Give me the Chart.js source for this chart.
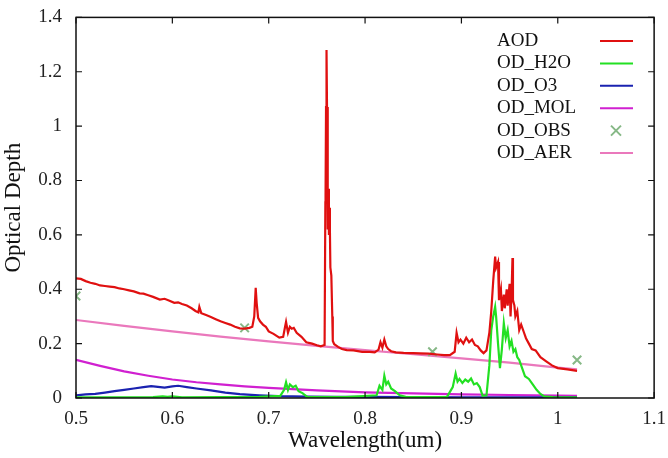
<!DOCTYPE html>
<html>
<head>
<meta charset="utf-8">
<script src="https://cdn.jsdelivr.net/npm/chart.js@4.4.1/dist/chart.umd.min.js"></script>
<style>
  html, body { margin: 0; padding: 0; background: #fff; }
  #wrap { width: 668px; height: 458px; }
</style>
</head>
<body>
<div id="wrap"><canvas id="odChart" width="668" height="458"></canvas></div>
<script>
// tick labels
const xTickLabels = ["0.5", "0.6", "0.7", "0.8", "0.9", "1", "1.1"];
const yTickLabels = ["0", "0.2", "0.4", "0.6", "0.8", "1", "1.2", "1.4"];

// AOD (red), fine grid around absorption bands
const aodWl = [0.500, 0.505, 0.510, 0.515, 0.520, 0.525, 0.530, 0.535, 0.540, 0.545, 0.550, 0.555, 0.560, 0.566, 0.570, 0.575, 0.580, 0.587, 0.592, 0.597, 0.602, 0.606, 0.610, 0.615, 0.620, 0.624, 0.627, 0.628, 0.630, 0.635, 0.640, 0.645, 0.650, 0.655, 0.660, 0.665, 0.670, 0.675, 0.680, 0.683, 0.685, 0.6865, 0.6875, 0.689, 0.691, 0.694, 0.697, 0.700, 0.705, 0.711, 0.715, 0.717, 0.718, 0.720, 0.722, 0.724, 0.726, 0.729, 0.734, 0.739, 0.745, 0.750, 0.754, 0.758, 0.7588, 0.759, 0.7595, 0.760, 0.7605, 0.761, 0.7615, 0.762, 0.7625, 0.763, 0.7635, 0.764, 0.765, 0.766, 0.7665, 0.768, 0.772, 0.776, 0.781, 0.788, 0.797, 0.805, 0.810, 0.814, 0.816, 0.818, 0.820, 0.822, 0.824, 0.827, 0.832, 0.840, 0.850, 0.857, 0.866, 0.875, 0.882, 0.888, 0.893, 0.895, 0.897, 0.899, 0.902, 0.905, 0.908, 0.911, 0.914, 0.917, 0.920, 0.923, 0.926, 0.929, 0.931, 0.933, 0.935, 0.936, 0.938, 0.939, 0.941, 0.942, 0.944, 0.945, 0.947, 0.948, 0.950, 0.951, 0.952, 0.953, 0.9535, 0.955, 0.956, 0.958, 0.960, 0.962, 0.965, 0.967, 0.970, 0.973, 0.977, 0.982, 0.988, 0.994, 1.000, 1.010, 1.020];
const aodVal = [0.440, 0.438, 0.430, 0.424, 0.420, 0.414, 0.412, 0.410, 0.408, 0.403, 0.400, 0.396, 0.392, 0.385, 0.384, 0.378, 0.372, 0.362, 0.365, 0.358, 0.350, 0.352, 0.346, 0.340, 0.330, 0.320, 0.315, 0.335, 0.312, 0.305, 0.298, 0.290, 0.282, 0.276, 0.270, 0.262, 0.256, 0.255, 0.258, 0.262, 0.300, 0.405, 0.350, 0.295, 0.282, 0.270, 0.262, 0.245, 0.236, 0.222, 0.225, 0.262, 0.280, 0.240, 0.262, 0.255, 0.258, 0.240, 0.225, 0.205, 0.200, 0.194, 0.190, 0.195, 0.720, 0.750, 1.070, 1.280, 1.070, 0.800, 0.620, 0.770, 0.600, 0.700, 0.620, 0.480, 0.450, 0.300, 0.210, 0.198, 0.188, 0.180, 0.176, 0.175, 0.170, 0.170, 0.168, 0.178, 0.205, 0.185, 0.215, 0.190, 0.180, 0.172, 0.168, 0.166, 0.165, 0.164, 0.163, 0.160, 0.158, 0.158, 0.170, 0.240, 0.205, 0.215, 0.200, 0.222, 0.205, 0.215, 0.195, 0.190, 0.175, 0.165, 0.175, 0.240, 0.320, 0.430, 0.520, 0.480, 0.500, 0.360, 0.400, 0.320, 0.380, 0.330, 0.400, 0.340, 0.420, 0.300, 0.380, 0.515, 0.360, 0.340, 0.300, 0.320, 0.250, 0.270, 0.240, 0.220, 0.200, 0.180, 0.175, 0.150, 0.135, 0.120, 0.110, 0.105, 0.100, 0.100];

// OD_H2O (green)
const h2oWl = [0.500, 0.540, 0.580, 0.590, 0.595, 0.600, 0.610, 0.650, 0.690, 0.712, 0.716, 0.718, 0.720, 0.722, 0.725, 0.728, 0.731, 0.735, 0.740, 0.780, 0.812, 0.815, 0.818, 0.820, 0.822, 0.824, 0.827, 0.831, 0.836, 0.842, 0.860, 0.885, 0.891, 0.894, 0.896, 0.898, 0.901, 0.904, 0.907, 0.910, 0.913, 0.916, 0.919, 0.922, 0.926, 0.929, 0.931, 0.933, 0.935, 0.936, 0.938, 0.940, 0.942, 0.944, 0.946, 0.948, 0.950, 0.952, 0.954, 0.956, 0.958, 0.960, 0.963, 0.966, 0.970, 0.974, 0.978, 0.982, 0.986, 0.995, 1.020];
const h2oVal = [0.002, 0.002, 0.003, 0.006, 0.004, 0.006, 0.002, 0.003, 0.004, 0.008, 0.030, 0.058, 0.030, 0.050, 0.040, 0.045, 0.025, 0.018, 0.004, 0.003, 0.010, 0.045, 0.030, 0.082, 0.050, 0.060, 0.035, 0.025, 0.010, 0.004, 0.003, 0.004, 0.040, 0.090, 0.060, 0.070, 0.055, 0.068, 0.060, 0.072, 0.050, 0.055, 0.040, 0.008, 0.010, 0.120, 0.250, 0.300, 0.335, 0.300, 0.200, 0.110, 0.180, 0.275, 0.220, 0.250, 0.190, 0.210, 0.170, 0.180, 0.150, 0.140, 0.110, 0.080, 0.070, 0.050, 0.030, 0.015, 0.006, 0.003, 0.002];

// OD_O3 (blue)
const o3Wl = [0.500, 0.510, 0.520, 0.530, 0.540, 0.550, 0.560, 0.570, 0.578, 0.585, 0.592, 0.600, 0.606, 0.615, 0.625, 0.640, 0.655, 0.670, 0.690, 0.710, 0.740, 0.770, 0.800, 0.850, 0.900, 0.950, 1.000, 1.020];
const o3Val = [0.010, 0.013, 0.015, 0.020, 0.025, 0.030, 0.035, 0.040, 0.044, 0.041, 0.038, 0.043, 0.045, 0.040, 0.035, 0.028, 0.020, 0.014, 0.010, 0.007, 0.005, 0.004, 0.004, 0.003, 0.002, 0.002, 0.002, 0.002];

// OD_MOL (magenta)
const molWl = [0.500, 0.525, 0.550, 0.575, 0.600, 0.625, 0.650, 0.675, 0.700, 0.750, 0.800, 0.850, 0.900, 0.950, 1.000, 1.020];
const molVal = [0.140, 0.118, 0.098, 0.082, 0.068, 0.058, 0.050, 0.043, 0.037, 0.028, 0.021, 0.017, 0.013, 0.011, 0.009, 0.008];

// OD_AER (pink)
const aerWl = [0.500, 0.550, 0.600, 0.650, 0.700, 0.750, 0.800, 0.850, 0.900, 0.950, 1.000, 1.020];
const aerVal = [0.287, 0.265, 0.245, 0.226, 0.208, 0.192, 0.176, 0.161, 0.146, 0.130, 0.112, 0.105];

// OD_OBS (markers)
const obsWl = [0.500, 0.675, 0.870, 1.020];
const obsVal = [0.375, 0.258, 0.170, 0.140];

function pts(xs, ys) {
  return xs.map((x, i) => ({ x: x, y: ys[i] }));
}

const FONT = "'Liberation Serif', 'DejaVu Serif', serif";

// frame, inward ticks and legend
const framePlugin = {
  id: "frame",
  afterDatasetsDraw(chart) {
    const ctx = chart.ctx;
    const a = chart.chartArea;
    const xs = chart.scales.x;
    const ys = chart.scales.y;
    ctx.save();
    ctx.strokeStyle = "#111";
    ctx.lineWidth = 1.5;
    ctx.strokeRect(a.left, a.top, a.right - a.left, a.bottom - a.top);
    ctx.lineWidth = 1.2;
    ctx.beginPath();
    xs.ticks.forEach((t) => {
      const px = xs.getPixelForValue(t.value);
      ctx.moveTo(px, a.bottom); ctx.lineTo(px, a.bottom - 6);
      ctx.moveTo(px, a.top); ctx.lineTo(px, a.top + 6);
    });
    ys.ticks.forEach((t) => {
      const py = ys.getPixelForValue(t.value);
      ctx.moveTo(a.left, py); ctx.lineTo(a.left + 6, py);
      ctx.moveTo(a.right, py); ctx.lineTo(a.right - 6, py);
    });
    ctx.stroke();

    // legend
    ctx.font = "19px " + FONT;
    ctx.textBaseline = "middle";
    ctx.textAlign = "left";
    chart.data.datasets.forEach((ds, i) => {
      const y = 41 + i * 22.4;
      ctx.fillStyle = "#111";
      ctx.fillText(ds.label, 497, y);
      ctx.strokeStyle = ds.borderColor;
      ctx.lineWidth = 2;
      ctx.beginPath();
      if (ds.showLine) {
        ctx.moveTo(600, y); ctx.lineTo(633, y);
      } else {
        ctx.moveTo(611, y - 5); ctx.lineTo(621, y + 5);
        ctx.moveTo(621, y - 5); ctx.lineTo(611, y + 5);
      }
      ctx.stroke();
    });
    ctx.restore();
  }
};

const lineDs = (label, data, color) => ({
  label: label,
  data: data,
  showLine: true,
  borderColor: color,
  backgroundColor: color,
  borderWidth: 2.2,
  pointRadius: 0,
  pointHoverRadius: 0,
  tension: 0
});

new Chart(document.getElementById("odChart"), {
  type: "scatter",
  data: {
    datasets: [
      lineDs("AOD", pts(aodWl, aodVal), "#e01010"),
      lineDs("OD_H2O", pts(h2oWl, h2oVal), "#22e022"),
      lineDs("OD_O3", pts(o3Wl, o3Val), "#1a22b0"),
      lineDs("OD_MOL", pts(molWl, molVal), "#d020d0"),
      {
        label: "OD_OBS",
        data: pts(obsWl, obsVal),
        showLine: false,
        pointStyle: "crossRot",
        pointRadius: 6,
        borderWidth: 2,
        borderColor: "#86b886",
        backgroundColor: "#86b886"
      },
      lineDs("OD_AER", pts(aerWl, aerVal), "#ea78bc")
    ]
  },
  options: {
    responsive: false,
    animation: false,
    layout: { padding: { top: 17, right: 13, left: 0, bottom: 0 } },
    plugins: { legend: { display: false }, tooltip: { enabled: false } },
    scales: {
      x: {
        type: "linear",
        min: 0.5,
        max: 1.1,
        grid: { display: false },
        border: { display: false },
        ticks: {
          stepSize: 0.1,
          padding: 2,
          color: "#222",
          font: { family: FONT, size: 19 },
          callback: (v, i) => xTickLabels[i]
        },
        title: {
          display: true,
          text: "Wavelength(um)",
          color: "#111",
          font: { family: FONT, size: 23 },
          padding: { top: 0, bottom: 3 }
        },
        afterFit: (s) => { s.height = 60; }
      },
      y: {
        min: 0,
        max: 1.4,
        grid: { display: false },
        border: { display: false },
        ticks: {
          stepSize: 0.2,
          padding: 6,
          color: "#222",
          font: { family: FONT, size: 19 },
          callback: (v, i) => yTickLabels[i]
        },
        title: {
          display: true,
          text: "Optical Depth",
          color: "#111",
          font: { family: FONT, size: 23 },
          padding: { top: 0, bottom: 0 }
        },
        afterFit: (s) => { s.width = 76; }
      }
    }
  },
  plugins: [framePlugin]
});
</script>
</body>
</html>
